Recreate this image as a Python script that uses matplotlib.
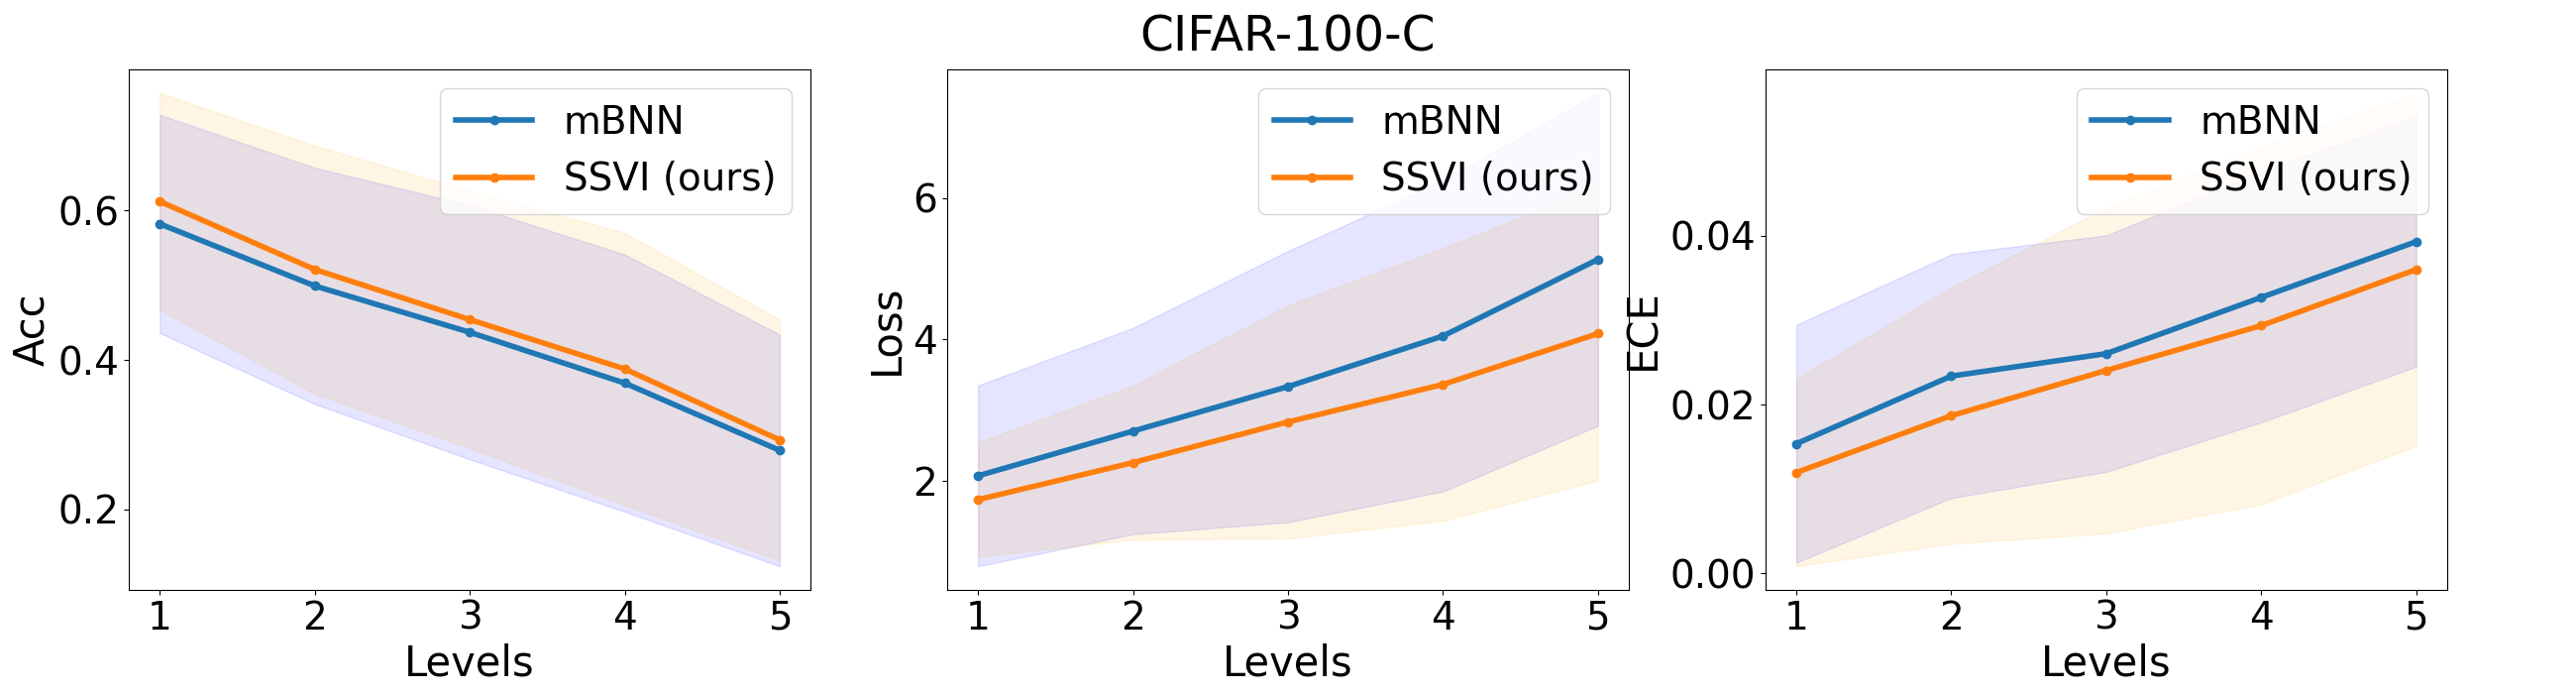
import numpy as np
import matplotlib
matplotlib.use("Agg")
import matplotlib.pyplot as plt

# corruption levels
levels = [1, 2, 3, 4, 5]

# accuracy (mean, std)
acc_mbnn = [0.582, 0.499, 0.437, 0.369, 0.279]
acc_mbnn_std = [0.146, 0.158, 0.170, 0.172, 0.155]
acc_ssvi = [0.612, 0.521, 0.454, 0.388, 0.293]
acc_ssvi_std = [0.145, 0.166, 0.172, 0.182, 0.161]

# loss (mean, std)
loss_mbnn = [2.067, 2.70, 3.33, 4.046, 5.13]
loss_mbnn_std = [1.28, 1.46, 1.92, 2.20, 2.355]
loss_ssvi = [1.73, 2.254, 2.83, 3.36, 4.08]
loss_ssvi_std = [0.81, 1.09, 1.65, 1.93, 2.08]

# ECE (mean, std)
ece_mbnn = [0.01537, 0.02338, 0.02604, 0.0327, 0.0393]
ece_mbnn_std = [0.01408, 0.01443, 0.0140, 0.0148, 0.0148]
ece_ssvi = [0.01196, 0.01869, 0.02405, 0.02936, 0.0360]
ece_ssvi_std = [0.0111, 0.01515, 0.0193, 0.02115, 0.0209]

panels = [
    ("Acc", acc_mbnn, acc_mbnn_std, acc_ssvi, acc_ssvi_std),
    ("Loss", loss_mbnn, loss_mbnn_std, loss_ssvi, loss_ssvi_std),
    ("ECE", ece_mbnn, ece_mbnn_std, ece_ssvi, ece_ssvi_std),
]

fig, axes = plt.subplots(1, 3, figsize=(26, 7), dpi=100)
fig.subplots_adjust(left=0.05, right=0.95, bottom=0.15, top=0.9, wspace=0.2)

for ax, (name, m1, s1, m2, s2) in zip(axes, panels):
    m1, s1, m2, s2 = map(np.array, (m1, s1, m2, s2))
    ax.plot(levels, m1, marker='o', lw=4, color='tab:blue', label='mBNN')
    ax.fill_between(levels, m1 - s1, m1 + s1, color='blue', alpha=0.1)
    ax.plot(levels, m2, marker='o', lw=4, color='tab:orange', label='SSVI (ours)')
    ax.fill_between(levels, m2 - s2, m2 + s2, color='orange', alpha=0.1)
    ax.set_xticks(levels)
    ax.tick_params(labelsize=28)
    ax.set_xlabel("Levels", fontsize=30)
    ax.set_ylabel(name, fontsize=30)
    ax.legend(loc='upper right', fontsize=28)

fig.suptitle("CIFAR-100-C", fontsize=35)
plt.savefig("out.png")
